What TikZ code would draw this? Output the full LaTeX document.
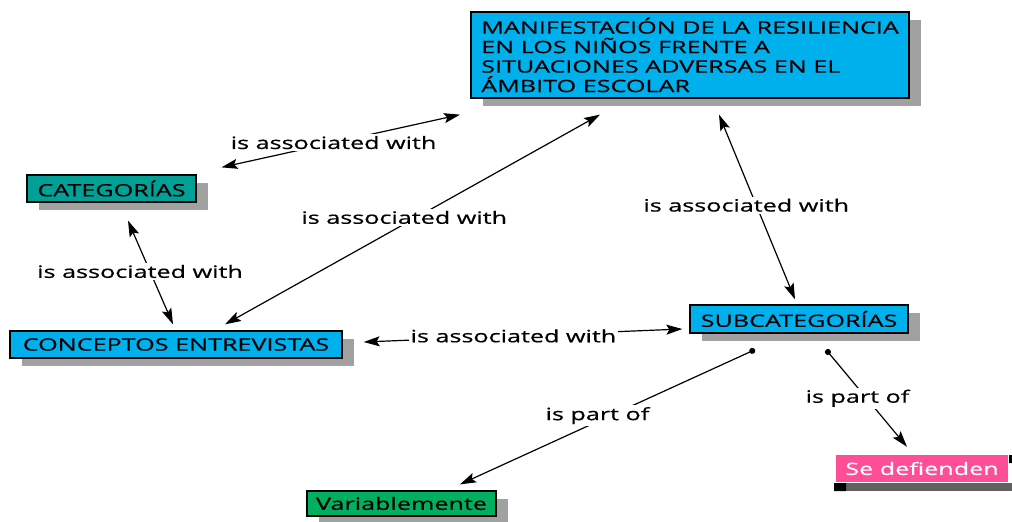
\documentclass[tikz,border=0pt]{standalone}
\usepackage{fontspec}
\setmainfont{Open Sans}[FakeStretch=1.48, FakeBold=0.6]
\usetikzlibrary{arrows.meta,calc,shadows}
\definecolor{skyblue}{RGB}{0,176,236}
\definecolor{tealbox}{RGB}{0,160,150}
\definecolor{greenbox}{RGB}{0,176,96}
\definecolor{pinkbox}{RGB}{255,77,150}
\begin{document}
\begin{tikzpicture}[x=1pt, y=-1pt, font=\fontsize{17pt}{19.5pt}\selectfont,
    concept/.style={draw=black, line width=1.3pt, inner sep=0pt,
      drop shadow={shadow xshift=12pt, shadow yshift=-8pt, fill=black!37, opacity=1}},
    assoc/.style={line width=1.2pt, {Stealth[length=16pt,width=10pt,inset=3pt]}-{Stealth[length=16pt,width=10pt,inset=3pt]}},
    part/.style={line width=1.2pt, {Circle[length=6pt]}-{Stealth[length=16pt,width=10pt,inset=3pt]}},
    lbl/.style={fill=white, inner sep=2pt}]
  \useasboundingbox (0,0) rectangle (1012,522);
  \node[concept, fill=skyblue, minimum width=438pt, minimum height=86pt, align=left] (main) at (690,55)
    {MANIFESTACIÓN DE LA RESILIENCIA\\EN LOS NIÑOS FRENTE A\\SITUACIONES ADVERSAS EN EL\\ÁMBITO ESCOLAR};
  \node[concept, fill=tealbox, minimum width=169pt, minimum height=27pt] (cat) at (111.5,188.5) {CATEGORÍAS};
  \node[concept, fill=skyblue, minimum width=332pt, minimum height=27pt] (conc) at (176,344.5) {CONCEPTOS ENTREVISTAS};
  \node[concept, fill=skyblue, minimum width=218pt, minimum height=28pt] (sub) at (799,319) {SUBCATEGORÍAS};
  \node[concept, fill=greenbox, minimum width=189pt, minimum height=25pt] (var) at (401.5,503.5) {Variablemente};
  % Se defienden has a flat dark shadow
  \fill[black!62] (846,483) rectangle (1012,491);
  \fill[black] (834,483) rectangle (846,491) (1009,455) rectangle (1012,463);
  \node[fill=pinkbox, text=white, inner sep=0pt, minimum width=172pt, minimum height=27pt] (sed) at (922,468.5) {Se defienden};
  \draw[assoc] ($(main.south)+(-230,16)$) -- node[lbl, pos=.53] {is associated with} ($(cat.north)+(110,-7)$);
  \draw[assoc] ($(main.south)+(-90,16)$) -- node[lbl, pos=.49, xshift=-12pt] {is associated with} ($(conc.north)+(49,-6)$);
  \draw[assoc] ($(cat.south)+(16.5,18)$) -- node[lbl, pos=.49, xshift=-10pt] {is associated with} ($(conc.north)+(-3,-6)$);
  \draw[assoc] ($(conc.east)+(21,-2.5)$) -- node[lbl, pos=.47] {is associated with} ($(sub.west)+(-7,10)$);
  \draw[assoc] ($(main.south)+(29,16)$) -- node[lbl, pos=.49, xshift=-10pt] {is associated with} ($(sub.north)+(-4,-5)$);
  \draw[part] ($(sub.south)+(-44,16)$) -- node[lbl, pos=.49, xshift=-13pt] {is part of} ($(var.north)+(58.5,-6)$);
  \draw[part] ($(sub.south)+(27,16)$) -- node[lbl, pos=.5, xshift=-9pt] {is part of} ($(sed.north)+(-15,-8)$);
\end{tikzpicture}
\end{document}
